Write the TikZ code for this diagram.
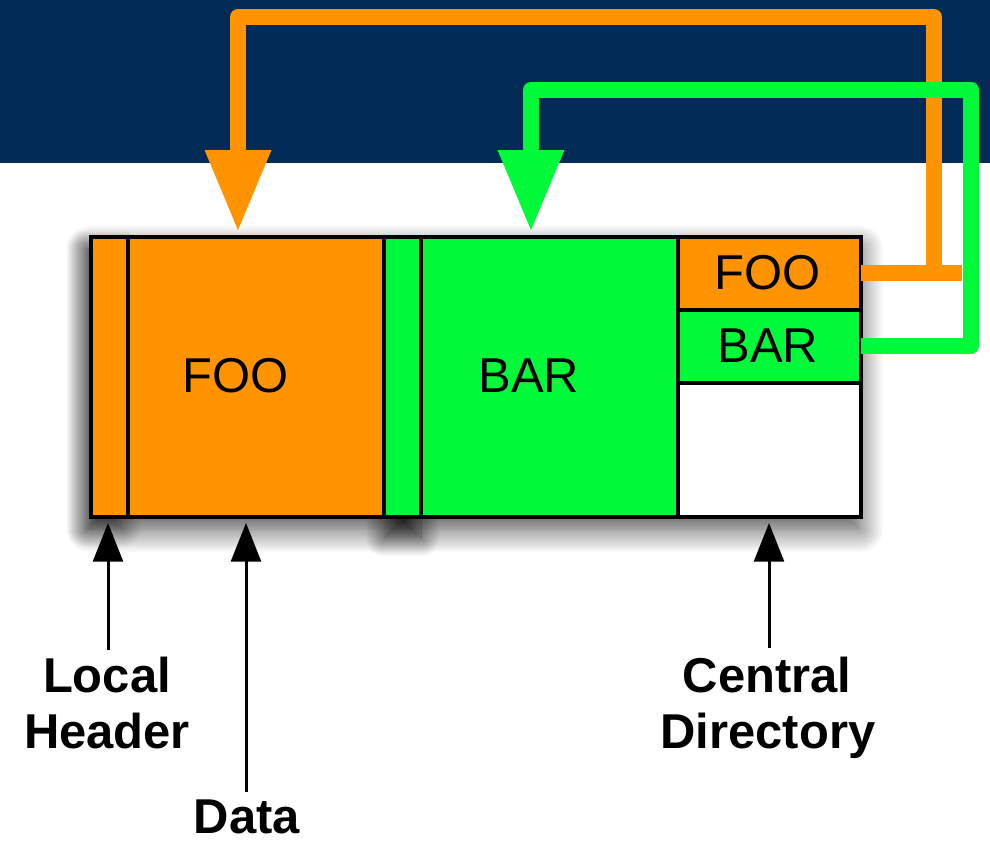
\documentclass[tikz,border=0pt]{standalone}
\usepackage{fontspec}
\setmainfont{Liberation Sans}
\usetikzlibrary{arrows.meta,shadows.blur}

\definecolor{bandnavy}{RGB}{2,44,85}
\definecolor{zorange}{RGB}{255,148,0}
\definecolor{zgreen}{RGB}{0,250,58}

\begin{document}
\begin{tikzpicture}[x=0.75pt,y=-0.75pt,
  cell/.style={draw=black, line width=3pt, inner sep=0pt, outer sep=0pt,
               anchor=north west, rectangle},
  celltext/.style={font=\fontsize{36.7}{42}\selectfont, inner sep=0pt, anchor=base},
  labeltext/.style={font=\fontsize{36.7}{42}\selectfont\bfseries, inner sep=0pt, anchor=base},
  route/.style={line width=12pt, line join=round},
  bigtip/.style={-{Triangle[length=61.5pt,width=46.5pt]}},
  pointer/.style={draw=black, line width=2.25pt,
                  -{Triangle[length=29pt,width=22.5pt,fill=black,color=black]}}]

  % canvas and top band
  \useasboundingbox (0,0) rectangle (990,840);
  \fill[bandnavy] (0,0) rectangle (990,163);

  % soft drop shadows behind the archive strip and its narrow header cells
  \path[fill=white, blur shadow={shadow xshift=-1pt, shadow yshift=-9pt,
        shadow blur radius=18pt, shadow blur steps=24, shadow opacity=72}]
        (91,237) rectangle (861,517);
  \path[fill=white, blur shadow={shadow xshift=-4pt, shadow yshift=-9pt,
        shadow blur radius=14pt, shadow blur steps=20, shadow opacity=60}]
        (91,237) rectangle (128,517);
  \path[fill=white, blur shadow={shadow xshift=0pt, shadow yshift=-16pt,
        shadow blur radius=14pt, shadow blur steps=20, shadow opacity=75}]
        (384,237) rectangle (421,517);

  % archive cells
  \node[cell, fill=zorange, minimum width=27.75pt, minimum height=210pt] (lh1) at (91,237) {};
  \node[cell, fill=zorange, minimum width=192pt,   minimum height=210pt] (d1)  at (128,237) {};
  \node[cell, fill=zgreen,  minimum width=27.75pt, minimum height=210pt] (lh2) at (384,237) {};
  \node[cell, fill=zgreen,  minimum width=192.75pt,minimum height=210pt] (d2)  at (421,237) {};
  \node[cell, fill=zorange, minimum width=137.25pt,minimum height=54.75pt] (cdfoo) at (678,237) {};
  \node[cell, fill=zgreen,  minimum width=137.25pt,minimum height=54.75pt] (cdbar) at (678,310) {};
  \node[cell, fill=white,   minimum width=137.25pt,minimum height=100.5pt] (cdend) at (678,383) {};

  % cell texts
  \node[celltext] (foodata) at (236,392) {FOO};
  \node[celltext] (bardata) at (529,392) {BAR};
  \node[celltext] (fooentry) at (768,289) {FOO};
  \node[celltext] (barentry) at (768,362) {BAR};

  % connector ends
  \coordinate (fooin) at (238,232);
  \coordinate (barin) at (531,232);
  \coordinate (foobend) at (934,273);
  \coordinate (barbend) at (971,346);

  % orange link: central entry FOO back to its data
  \draw[route, zorange] (cdfoo.east |- foobend) -- ++(101,0);
  \draw[route, zorange, bigtip] (foobend) |- (238,17) -- (fooin);

  % green link: central entry BAR back to its data
  \draw[route, zgreen, bigtip] (cdbar.east |- barbend) -| (971,90) -| (barin);

  % captions and pointers
  \node[labeltext] (lcl)  at (107,692) {Local};
  \node[labeltext] (hdr)  at (107,748) {Header};
  \node[labeltext] (dat)  at (247,833) {Data};
  \node[labeltext] (cen)  at (767,692) {Central};
  \node[labeltext] (dir)  at (768,748) {Directory};

  \coordinate (lhtail) at (108,650);
  \coordinate (dattail) at (246,792);
  \coordinate (centail) at (769,648);

  \draw[pointer, shorten >=4.5pt] (lhtail) -- (lhtail |- lh1.south);
  \draw[pointer, shorten >=4.5pt] (dattail) -- (dattail |- d1.south);
  \draw[pointer, shorten >=4.5pt] (centail) -- (centail |- cdend.south);
\end{tikzpicture}
\end{document}
